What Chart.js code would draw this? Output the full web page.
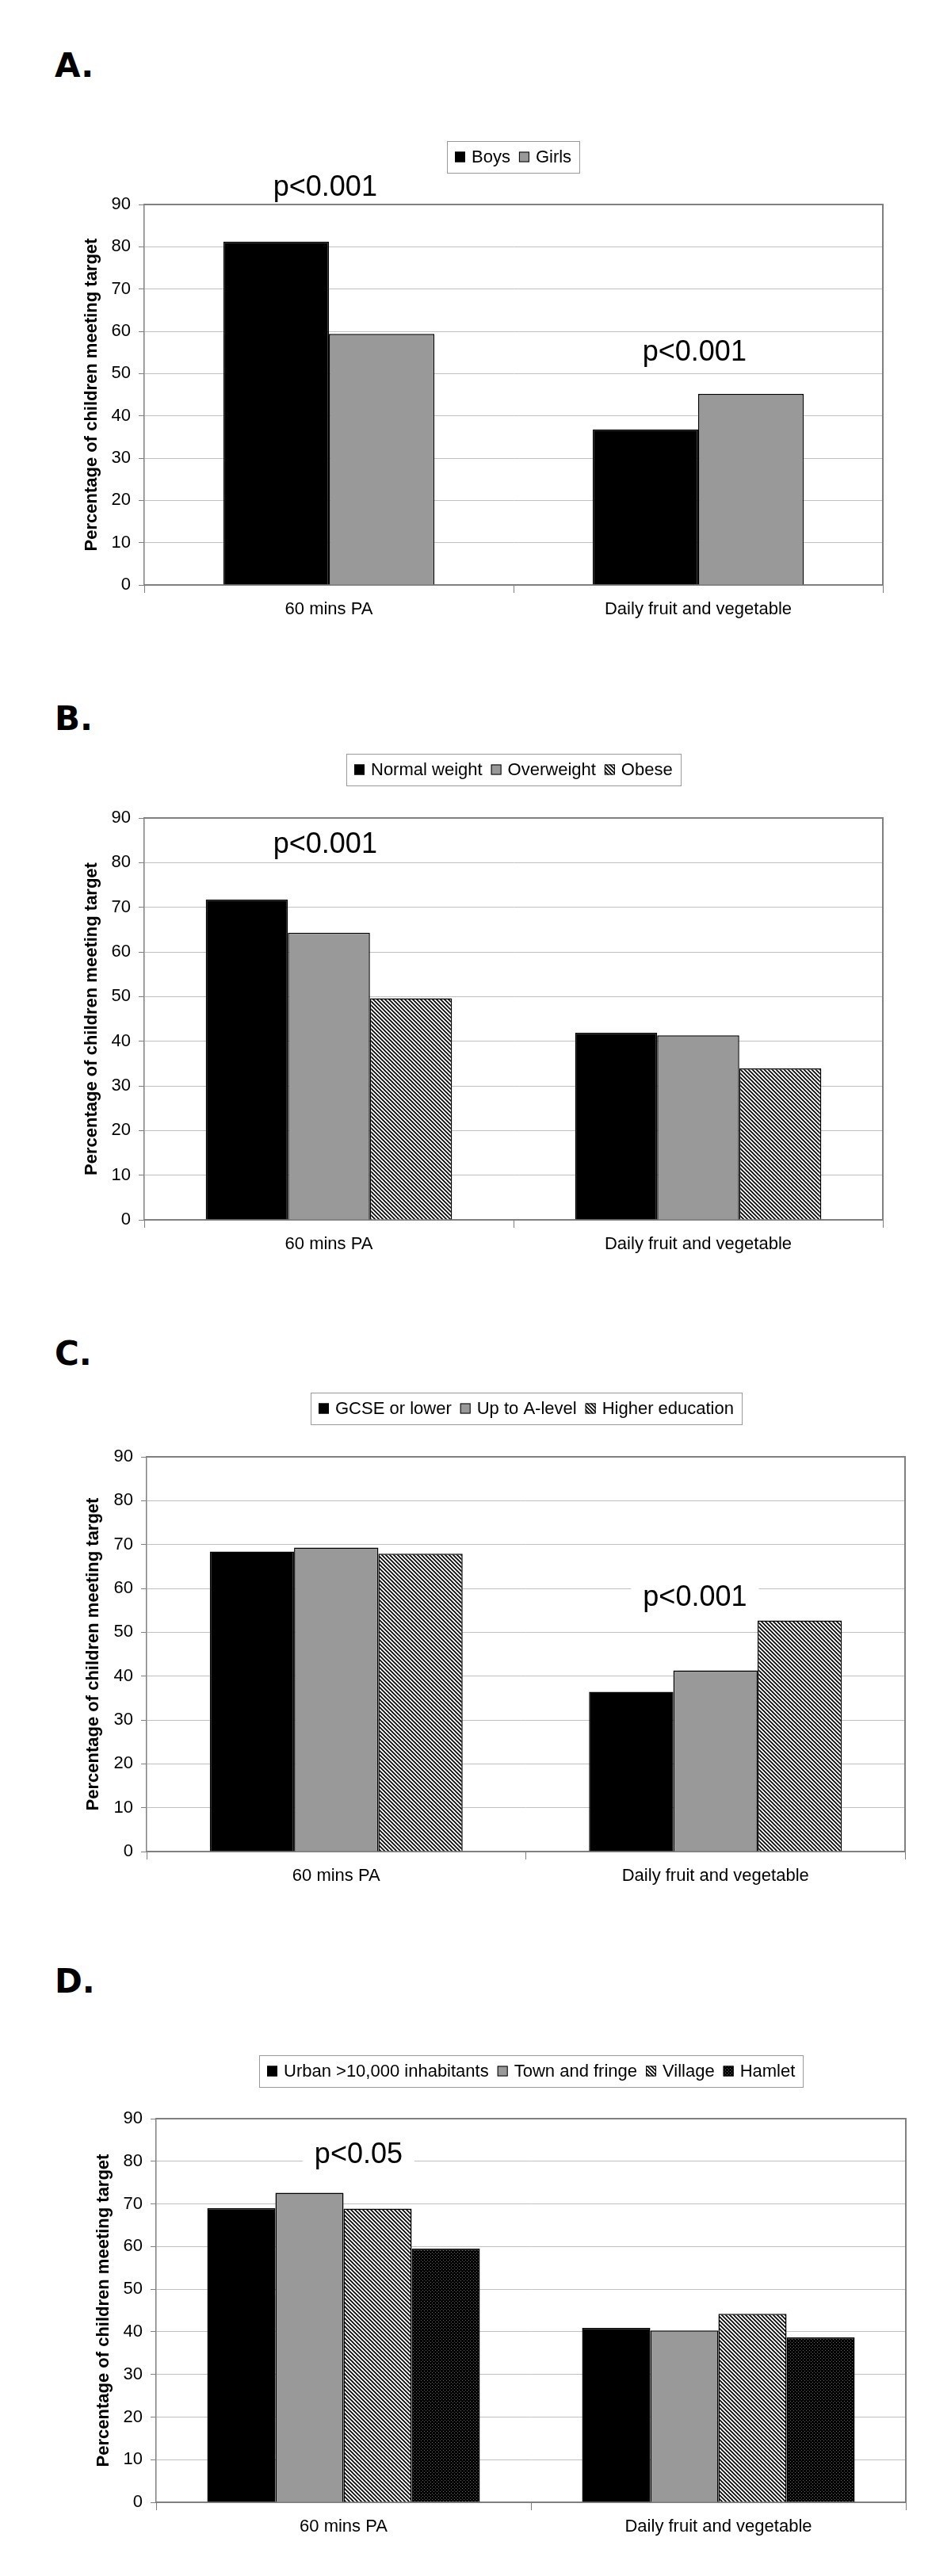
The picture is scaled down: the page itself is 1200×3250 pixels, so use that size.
<!DOCTYPE html>
<html>
<head>
<meta charset="utf-8">
<script src="https://cdn.jsdelivr.net/npm/chart.js@4.4.0/dist/chart.umd.min.js"></script>
<style>
  body { margin: 0; background: #fff; }
  #page { position: relative; width: 1200px; height: 3250px; overflow: hidden; background: #fff; }
  #page canvas { position: absolute; left: 0; }
  .letter { position: absolute; left: 69px; font: bold 42px "DejaVu Sans", sans-serif; line-height: 42px; color: #000; }
</style>
</head>
<body>
<div id="page"></div>
<script>
// categories and axis
const categories = ["60 mins PA", "Daily fruit and vegetable"];
const yTicks = [0, 10, 20, 30, 40, 50, 60, 70, 80, 90];
const yTitle = "Percentage of children meeting target";

// A. sex
const sexSeries = ["Boys", "Girls"];
const boysValues = [81.2, 36.8];
const girlsValues = [59.4, 45.2];

// B. weight status
const weightSeries = ["Normal weight", "Overweight", "Obese"];
const normalValues = [71.7, 41.9];
const overweightValues = [64.3, 41.3];
const obeseValues = [49.6, 33.9];

// C. parental education
const eduSeries = ["GCSE or lower", "Up to A-level", "Higher education"];
const gcseValues = [68.4, 36.4];
const alevelValues = [69.3, 41.3];
const higherValues = [67.9, 52.7];

// D. area type
const areaSeries = ["Urban >10,000 inhabitants", "Town and fringe", "Village", "Hamlet"];
const urbanValues = [69.0, 40.9];
const townValues = [72.6, 40.3];
const villageValues = [68.9, 44.2];
const hamletValues = [59.5, 38.7];

// significance labels
const pTextA = ["p<0.001", "p<0.001"];
const pTextB = ["p<0.001"];
const pTextC = ["p<0.001"];
const pTextD = ["p<0.05"];

Chart.defaults.font.family = "'Liberation Sans', Arial, sans-serif";

function hatchPattern() {
  const c = document.createElement("canvas");
  c.width = 5; c.height = 5;
  const g = c.getContext("2d");
  g.fillStyle = "#fff";
  g.fillRect(0, 0, 5, 5);
  g.strokeStyle = "#000";
  g.lineWidth = 1.6;
  g.beginPath();
  g.moveTo(-1, -1); g.lineTo(6, 6);
  g.moveTo(-1, 4); g.lineTo(1, 6);
  g.moveTo(4, -1); g.lineTo(6, 1);
  g.stroke();
  return g.createPattern(c, "repeat");
}

function dotPattern() {
  const c = document.createElement("canvas");
  c.width = 4; c.height = 4;
  const g = c.getContext("2d");
  g.fillStyle = "#000";
  g.fillRect(0, 0, 4, 4);
  g.fillStyle = "#6a6a6a";
  g.fillRect(1, 1, 1, 1);
  g.fillRect(3, 3, 1, 1);
  return g.createPattern(c, "repeat");
}

const BLACK = "#000000";
const GREY = "#999999";
const HATCH = hatchPattern();
const DOTS = dotPattern();

// legend drawn in a box above the plot
const boxLegend = {
  id: "boxLegend",
  afterDraw(chart, args, opts) {
    const ctx = chart.ctx;
    const a = chart.chartArea;
    const sw = 13, gapText = 8, gapItem = 11, pad = 10, h = 40;
    ctx.save();
    ctx.font = "22px 'Liberation Sans', Arial, sans-serif";
    const items = chart.data.datasets.map(ds => ({
      text: ds.label, fill: ds.backgroundColor, w: ctx.measureText(ds.label).width
    }));
    let total = pad * 2 + gapItem * (items.length - 1);
    items.forEach(it => { total += sw + gapText + it.w; });
    const x0 = Math.round((a.left + a.right) / 2 - total / 2);
    const top = opts.top;
    ctx.fillStyle = "#fff";
    ctx.fillRect(x0, top, total, h);
    ctx.strokeStyle = "#999";
    ctx.lineWidth = 1;
    ctx.strokeRect(x0 + 0.5, top + 0.5, Math.round(total), h);
    const mid = top + h / 2;
    let cx = x0 + pad;
    items.forEach(it => {
      ctx.fillStyle = it.fill;
      ctx.fillRect(cx, mid - sw / 2, sw, sw);
      ctx.strokeStyle = "#000";
      ctx.strokeRect(cx + 0.5, mid - sw / 2 + 0.5, sw - 1, sw - 1);
      cx += sw + gapText;
      ctx.fillStyle = "#000";
      ctx.textAlign = "left";
      ctx.textBaseline = "middle";
      ctx.fillText(it.text, cx, mid + 1);
      cx += it.w + gapItem;
    });
    ctx.restore();
  }
};

// top and right edges of the plot area
const plotFrame = {
  id: "plotFrame",
  afterDraw(chart) {
    const ctx = chart.ctx;
    const a = chart.chartArea;
    ctx.save();
    ctx.strokeStyle = "#808080";
    ctx.lineWidth = 2;
    ctx.beginPath();
    ctx.moveTo(a.left, a.top);
    ctx.lineTo(a.right, a.top);
    ctx.lineTo(a.right, a.bottom);
    ctx.stroke();
    ctx.restore();
  }
};

// p-value notes, placed through the scales
const pLabels = {
  id: "pLabels",
  afterDraw(chart, args, opts) {
    const ctx = chart.ctx;
    const xs = chart.scales.x, ys = chart.scales.y;
    ctx.save();
    ctx.font = "36px 'Liberation Sans', Arial, sans-serif";
    ctx.textAlign = "center";
    ctx.textBaseline = "middle";
    opts.items.forEach(p => {
      const x = xs.getPixelForValue(p.at);
      const y = ys.getPixelForValue(p.value);
      const w = ctx.measureText(p.text).width + 30;
      ctx.fillStyle = "#fff";
      ctx.fillRect(x - w / 2, y - 18, w, 36);
      ctx.fillStyle = "#000";
      ctx.fillText(p.text, x, y);
    });
    ctx.restore();
  }
};

const panels = [
  {
    letter: "A.", letterBase: 97, canvasTop: 0, canvasHeight: 800,
    left: 182, right: 1114, top: 258, bottom: 738, legendTop: 178, titleX: 116,
    series: sexSeries, values: [boysValues, girlsValues], fills: [BLACK, GREY],
    notes: [{ text: pTextA[0], at: -0.01, value: 94 }, { text: pTextA[1], at: 0.99, value: 55 }]
  },
  {
    letter: "B.", letterBase: 921, canvasTop: 800, canvasHeight: 840,
    left: 182, right: 1114, top: 1032, bottom: 1539, legendTop: 951, titleX: 116,
    series: weightSeries, values: [normalValues, overweightValues, obeseValues], fills: [BLACK, GREY, HATCH],
    notes: [{ text: pTextB[0], at: -0.01, value: 84 }]
  },
  {
    letter: "C.", letterBase: 1722, canvasTop: 1640, canvasHeight: 800,
    left: 185, right: 1142, top: 1838, bottom: 2336, legendTop: 1757, titleX: 118,
    series: eduSeries, values: [gcseValues, alevelValues, higherValues], fills: [BLACK, GREY, HATCH],
    notes: [{ text: pTextC[0], at: 0.946, value: 57.8 }]
  },
  {
    letter: "D.", letterBase: 2514, canvasTop: 2440, canvasHeight: 810,
    left: 197, right: 1143, top: 2673, bottom: 3157, legendTop: 2593, titleX: 131,
    series: areaSeries, values: [urbanValues, townValues, villageValues, hamletValues], fills: [BLACK, GREY, HATCH, DOTS],
    notes: [{ text: pTextD[0], at: 0.04, value: 81.5 }]
  }
];

const page = document.getElementById("page");
const X_AXIS_H = 50;

panels.forEach(p => {
  const lab = document.createElement("div");
  lab.className = "letter";
  lab.textContent = p.letter;
  lab.style.top = (p.letterBase - 35.5) + "px";
  page.appendChild(lab);

  const canvas = document.createElement("canvas");
  canvas.width = 1200;
  canvas.height = p.canvasHeight;
  canvas.style.top = p.canvasTop + "px";
  canvas.style.width = "1200px";
  canvas.style.height = p.canvasHeight + "px";
  page.appendChild(canvas);

  const n = p.series.length;
  new Chart(canvas.getContext("2d"), {
    type: "bar",
    data: {
      labels: categories,
      datasets: p.series.map((name, i) => ({
        label: name,
        data: p.values[i],
        backgroundColor: p.fills[i],
        borderColor: "#000",
        borderWidth: 1.5,
        categoryPercentage: n / (n + 1.5),
        barPercentage: 1
      }))
    },
    options: {
      responsive: false,
      animation: false,
      devicePixelRatio: 1,
      layout: {
        padding: {
          left: 0,
          right: 1200 - p.right,
          top: p.top - p.canvasTop,
          bottom: p.canvasTop + p.canvasHeight - p.bottom - X_AXIS_H
        }
      },
      plugins: {
        legend: { display: false },
        tooltip: { enabled: false },
        boxLegend: { top: p.legendTop - p.canvasTop },
        pLabels: { items: p.notes }
      },
      scales: {
        x: {
          grid: { drawOnChartArea: false, drawTicks: true, tickLength: 10, tickColor: "#808080", offset: true },
          border: { color: "#808080", width: 2 },
          ticks: { color: "#000", font: { size: 22 }, padding: 8, maxRotation: 0, autoSkip: false },
          afterFit(s) { s.height = X_AXIS_H; }
        },
        y: {
          min: yTicks[0],
          max: yTicks[yTicks.length - 1],
          afterBuildTicks(s) { s.ticks = yTicks.map(v => ({ value: v })); },
          ticks: { color: "#000", font: { size: 22 }, padding: 10 },
          grid: { color: "#c0c0c0", lineWidth: 1, tickLength: 7, tickColor: "#808080" },
          border: { color: "#808080", width: 1.5 },
          title: {
            display: true,
            text: yTitle,
            color: "#000",
            font: { size: 22, weight: "bold" },
            padding: { top: p.titleX - 13.2, bottom: 0 }
          },
          afterFit(s) { s.width = p.left; }
        }
      }
    },
    plugins: [plotFrame, pLabels, boxLegend]
  });
});
</script>
</body>
</html>
